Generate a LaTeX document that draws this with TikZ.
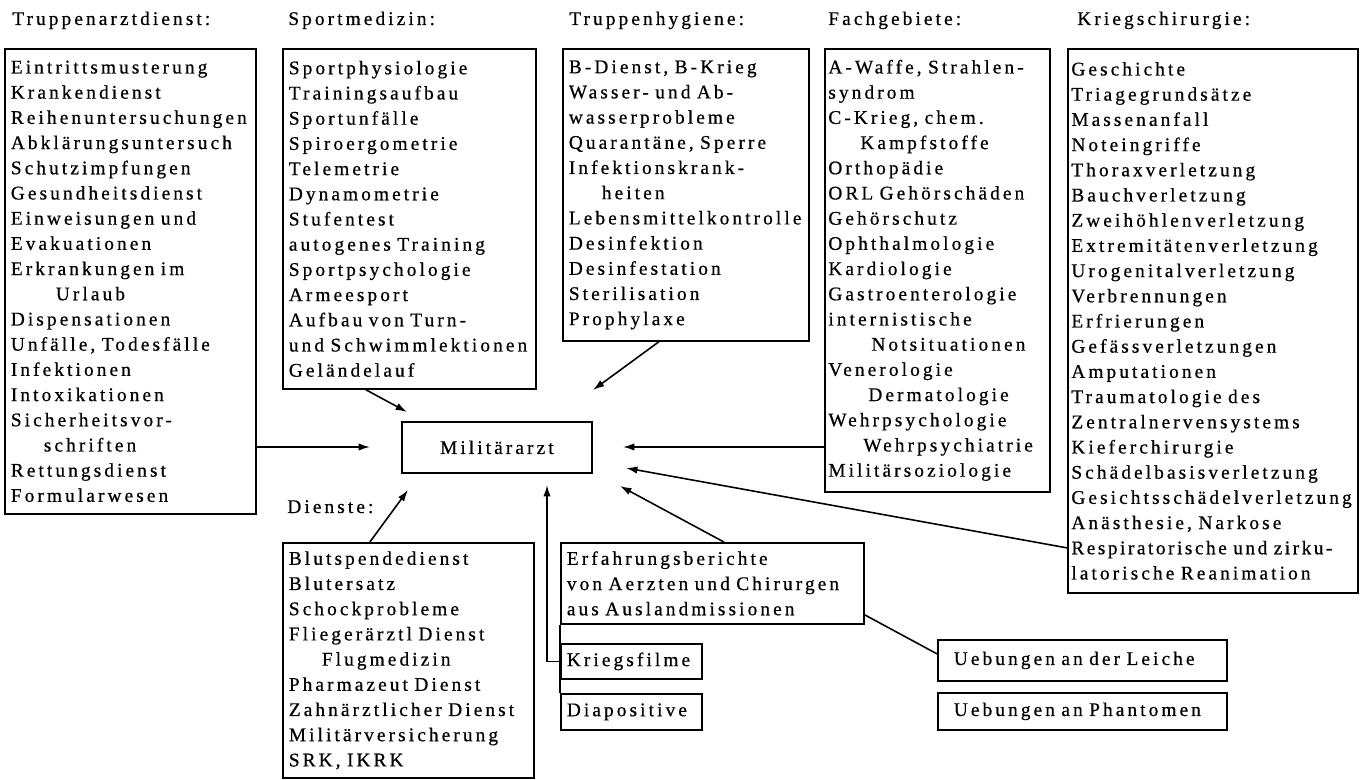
\documentclass[tikz,border=0pt]{standalone}
\usepackage{fontspec}
\setmainfont{Liberation Serif}[LetterSpace=16,FakeBold=0.6]
\usepackage{tikz}
\usetikzlibrary{arrows,arrows.meta}

\begin{document}
\begin{tikzpicture}[font=\fontsize{11}{14.34}\selectfont]
\tikzset{box/.style={draw,line width=1pt,anchor=north west,align=left,inner xsep=0.12cm,inner ysep=0.08cm},
  titel/.style={anchor=base west,inner sep=0pt},
  pfeil/.style={line width=0.9pt,->},
  >={Latex[length=6.5pt,width=4.2pt]}}
\useasboundingbox (0,0) rectangle (27.3,-15.6);

\node[titel] (tTruppe) at (0.24,-0.5) {Truppenarztdienst:};
\node[titel] (tSport) at (5.76,-0.5) {Sportmedizin:};
\node[titel] (tHygiene) at (11.38,-0.5) {Truppenhygiene:};
\node[titel] (tFach) at (16.56,-0.5) {Fachgebiete:};
\node[titel] (tChir) at (21.54,-0.5) {Kriegschirurgie:};
\node[titel] (tDienste) at (5.74,-10.26) {Dienste:};

\node[box,text width=4.78cm,minimum height=9.3cm] (truppe) at (0.08,-0.96) {Eintrittsmusterung\\ Krankendienst\\ Reihenuntersuchungen\\ Abklärungsuntersuch\\ Schutzimpfungen\\ Gesundheitsdienst\\ Einweisungen und\\ Evakuationen\\ Erkrankungen im\\ \hspace*{0.9cm}Urlaub\\ Dispensationen\\ Unfälle, Todesfälle\\ Infektionen\\ Intoxikationen\\ Sicherheitsvor-\\ \hspace*{0.66cm}schriften\\ Rettungsdienst\\ Formularwesen};
\node[box,text width=4.82cm,minimum height=6.8cm] (sport) at (5.64,-0.96) {Sportphysiologie\\ Trainingsaufbau\\ Sportunfälle\\ Spiroergometrie\\ Telemetrie\\ Dynamometrie\\ Stufentest\\ autogenes Training\\ Sportpsychologie\\ Armeesport\\ Aufbau von Turn-\\ und Schwimmlektionen\\ Geländelauf};
\node[box,text width=4.68cm,minimum height=5.84cm] (hygiene) at (11.24,-0.96) {B-Dienst, B-Krieg\\ Wasser- und Ab-\\ wasserprobleme\\ Quarantäne, Sperre\\ Infektionskrank-\\ \hspace*{0.66cm}heiten\\ Lebensmittelkontrolle\\ Desinfektion\\ Desinfestation\\ Sterilisation\\ Prophylaxe};
\node[box,inner xsep=0.07cm,text width=4.36cm,minimum height=8.86cm] (fach) at (16.48,-0.96) {A-Waffe, Strahlen-\\ syndrom\\ C-Krieg, chem.\\ \hspace*{0.64cm}Kampfstoffe\\ Orthopädie\\ ORL Gehörschäden\\ Gehörschutz\\ Ophthalmologie\\ Kardiologie\\ Gastroenterologie\\ internistische\\ \hspace*{0.86cm}Notsituationen\\ Venerologie\\ \hspace*{0.8cm}Dermatologie\\ Wehrpsychologie\\ \hspace*{0.7cm}Wehrpsychiatrie\\ Militärsoziologie};
\node[box,inner xsep=0.07cm,text width=5.66cm,minimum height=10.88cm] (chir) at (21.34,-0.96) {Geschichte\\ Triagegrundsätze\\ Massenanfall\\ Noteingriffe\\ Thoraxverletzung\\ Bauchverletzung\\ Zweihöhlenverletzung\\ Extremitätenverletzung\\ Urogenitalverletzung\\ Verbrennungen\\ Erfrierungen\\ Gefässverletzungen\\ Amputationen\\ Traumatologie des\\ Zentralnervensystems\\ Kieferchirurgie\\ Schädelbasisverletzung\\ Gesichtsschädelverletzung\\ Anästhesie, Narkose\\ {\addfontfeatures{LetterSpace=13}Respiratorische und zirku-}\\ latorische Reanimation};

\node[box,align=center,minimum width=3.8cm,minimum height=1.02cm] (arzt) at (8.02,-8.42) {Militärarzt};

\node[box,text width=4.78cm,minimum height=4.7cm] (dienste) at (5.64,-10.84) {Blutspendedienst\\ Blutersatz\\ Schockprobleme\\ Fliegerärztl Dienst\\ \hspace*{0.66cm}Flugmedizin\\ Pharmazeut Dienst\\ Zahnärztlicher Dienst\\ Militärversicherung\\ SRK, IKRK};
\node[box,text width=5.82cm,minimum height=1.62cm] (erfahrung) at (11.2,-10.84) {Erfahrungsberichte\\ von Aerzten und Chirurgen\\ aus Auslandmissionen};
\node[box,text width=2.58cm,minimum height=0.7cm] (filme) at (11.2,-12.86) {Kriegsfilme};
\node[box,text width=2.58cm,minimum height=0.72cm] (dias) at (11.2,-13.86) {Diapositive};
\node[box,inner xsep=0.32cm,text width=5.14cm,minimum height=0.82cm] (leiche) at (18.74,-12.78) {Uebungen an der Leiche};
\node[box,inner xsep=0.32cm,text width=5.14cm,minimum height=0.74cm] (phantom) at (18.74,-13.84) {Uebungen an Phantomen};

\coordinate (a1) at (7.4,-8.94);
\coordinate (a2) at (8.14,-8.24);
\coordinate (a3) at (11.86,-7.8);
\coordinate (a4) at (12.46,-8.94);
\coordinate (a5) at (12.52,-9.36);
\coordinate (a6) at (12.4,-9.72);
\coordinate (a7) at (10.94,-9.7);
\coordinate (a8) at (8.16,-9.8);

\draw[pfeil] (truppe.east |- a1) -- (a1);
\draw[pfeil] ([xshift=-0.87cm]sport.south) -- (a2);
\draw[pfeil] ([xshift=-0.54cm]hygiene.south) -- (a3);
\draw[pfeil] (fach.west |- a4) -- (a4);
\draw[pfeil] ([yshift=-4.54cm]chir.west) -- (a5);
\draw[pfeil] ([xshift=0.23cm]erfahrung.north) -- (a6);
\draw[pfeil] (filme.west) -| (a7);
\draw[pfeil] ([xshift=-0.77cm]dienste.north) -- (a8);
%\draw[pfeil] (erfahrung.east) -- (leiche.west);
\draw[line width=0.9pt] ([yshift=-0.63cm]erfahrung.east) -- ([yshift=0.13cm]leiche.west);
\draw[line width=1pt] (erfahrung.south west) -- (dias.north west);

\end{tikzpicture}
\end{document}
